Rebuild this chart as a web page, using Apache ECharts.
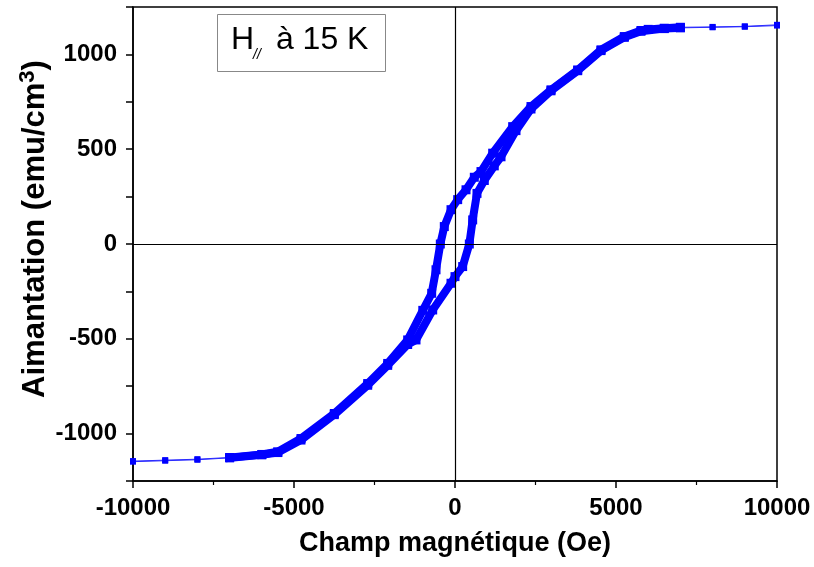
<!DOCTYPE html>
<html>
<head>
<meta charset="utf-8">
<title>Cycle d'hystérésis</title>
<script src="https://cdn.jsdelivr.net/npm/echarts@6/dist/echarts.min.js"></script>
<style>
  html, body { margin: 0; padding: 0; background: #fff; }
  #main { width: 814px; height: 567px; }
</style>
</head>
<body>
<div id="main"></div>
<script>
// branche descendante (de +10000 Oe vers -10000 Oe)
var fieldDesc = [10000, 9000, 8000, 7000, 6500, 6000, 5776, 5258, 4534, 3810, 2981, 2360, 1791, 1170, 807, 600, 342, 83, -124, -332, -456, -590, -724, -1000, -1470, -2090, -2711, -3748, -4783, -5507, -6000, -7000, -8000, -9000, -10000]
var momentDesc = [1156, 1148, 1145, 1143, 1138, 1132, 1126, 1094, 1024, 918, 813, 725, 619, 479, 382, 352, 286, 234, 181, 92, 0, -136, -260, -350, -506, -630, -736, -894, -1026, -1096, -1110, -1126, -1135, -1140, -1145]

// branche montante (de -10000 Oe vers +10000 Oe)
var fieldAsc = [-10000, -9000, -8000, -7000, -6000, -5500, -4783, -3748, -2711, -2090, -1470, -1211, -693, -124, 0, 238, 445, 549, 683, 910, 1220, 1429, 1894, 2360, 2981, 3810, 4534, 5258, 5776, 6500, 7000, 8000, 9000, 10000]
var momentAsc = [-1148, -1143, -1138, -1128, -1112, -1100, -1034, -900, -745, -640, -530, -506, -348, -207, -172, -119, 0, 127, 267, 335, 412, 460, 598, 712, 808, 914, 1020, 1090, 1122, 1136, 1140, 1143, 1146, 1152]

var xTicks = [-10000, -5000, 0, 5000, 10000]
var yTicks = [-1000, -500, 0, 500, 1000]

var denseLimit = 7000   // au-delà, mesures espacées de 1000 Oe

function pairs(xs, ys) {
  return xs.map(function (x, i) { return [x, ys[i]] })
}
function dense(xs, ys) {
  return pairs(xs, ys).filter(function (p) { return Math.abs(p[0]) <= denseLimit })
}

var blue = '#0000ff'
var font = '"Liberation Sans", Arial, sans-serif'

var myChart = echarts.init(document.getElementById('main'))

var option = {
  animation: false,
  backgroundColor: '#fff',
  grid: {
    left: 133, right: 37, top: 7, bottom: 86,
    show: true, borderColor: '#000', borderWidth: 1.5
  },
  xAxis: {
    type: 'value',
    min: -10000, max: 10000, interval: 5000,
    name: 'Champ magnétique (Oe)',
    nameLocation: 'middle',
    nameGap: 49,
    nameMoveOverlap: false,
    nameTextStyle: { fontFamily: font, fontWeight: 'bold', fontSize: 27, color: '#000' },
    axisLine: { onZero: false, lineStyle: { color: '#000', width: 1.5 } },
    axisTick: { length: 7, lineStyle: { color: '#000', width: 1.5 } },
    minorTick: { show: true, splitNumber: 2, length: 4, lineStyle: { color: '#000', width: 1.2 } },
    splitLine: { show: false },
    axisLabel: {
      margin: 15, fontFamily: font, fontWeight: 'bold', fontSize: 24, color: '#000',
      formatter: function (v) { return xTicks.indexOf(v) >= 0 ? String(v) : '' }
    }
  },
  yAxis: {
    type: 'value',
    min: -1250, max: 1250, interval: 250,
    name: 'Aimantation (emu/cm{sup|3})',
    nameLocation: 'middle',
    nameRotate: 90,
    nameGap: 80,
    nameMoveOverlap: false,
    nameTextStyle: {
      fontFamily: font, fontWeight: 'bold', fontSize: 31, color: '#000', lineHeight: 36,
      padding: [0, 0, 0, 30],
      rich: {
        sup: { fontFamily: font, fontWeight: 'bold', fontSize: 22, color: '#000', verticalAlign: 'top', lineHeight: 24 }
      }
    },
    axisLine: { onZero: false, lineStyle: { color: '#000', width: 1.5 } },
    axisTick: { length: 7, lineStyle: { color: '#000', width: 1.5 } },
    splitLine: { show: false },
    axisLabel: {
      margin: 16, fontFamily: font, fontWeight: 'bold', fontSize: 24, color: '#000',
      formatter: function (v) { return yTicks.indexOf(v) >= 0 ? String(v) : '' }
    }
  },
  graphic: [
    { type: 'rect', left: 217, top: 14, z: 10,
      shape: { width: 168, height: 57 },
      style: { fill: '#fff', stroke: '#888', lineWidth: 1 } },
    { type: 'text', left: 231, top: 24, z: 11,
      style: { text: 'H', font: '32px ' + font, fill: '#000' } },
    { type: 'text', left: 253, top: 48, z: 11,
      style: { text: '//', font: 'italic 14px ' + font, fill: '#000' } },
    { type: 'text', left: 267, top: 24, z: 11,
      style: { text: ' à 15 K', font: '32px ' + font, fill: '#000' } }
  ],
  series: [
    {
      // axes du zéro, sous les courbes
      type: 'line', data: [], z: 1, silent: true,
      markLine: {
        silent: true, symbol: ['none', 'none'], label: { show: false },
        lineStyle: { color: '#000', width: 1.2, type: 'solid' },
        data: [{ xAxis: 0 }, { yAxis: 0 }]
      }
    },
    {
      type: 'line', name: 'desc', z: 3,
      data: pairs(fieldDesc, momentDesc),
      symbol: 'rect', symbolSize: 6,
      itemStyle: { color: blue },
      lineStyle: { color: '#2a2aff', width: 1 }
    },
    {
      type: 'line', name: 'asc', z: 3,
      data: pairs(fieldAsc, momentAsc),
      symbol: 'rect', symbolSize: 6,
      itemStyle: { color: blue },
      lineStyle: { color: '#2a2aff', width: 1 }
    },
    {
      type: 'line', name: 'descDense', z: 4,
      data: dense(fieldDesc, momentDesc),
      symbol: 'rect', symbolSize: 9,
      itemStyle: { color: blue },
      lineStyle: { color: blue, width: 8, cap: 'square', join: 'round' }
    },
    {
      type: 'line', name: 'ascDense', z: 4,
      data: dense(fieldAsc, momentAsc),
      symbol: 'rect', symbolSize: 9,
      itemStyle: { color: blue },
      lineStyle: { color: blue, width: 8, cap: 'square', join: 'round' }
    }
  ]
}

myChart.setOption(option)
window.addEventListener('resize', function () { myChart.resize() })
</script>
</body>
</html>
